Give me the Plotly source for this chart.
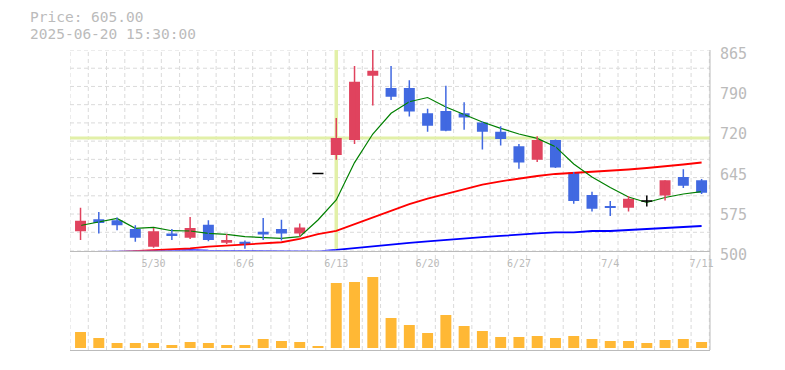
import plotly.graph_objects as go

# ---- data ----
dates = ["5/26","5/27","5/28","5/29","5/30","6/2","6/3","6/4","6/5","6/6",
         "6/9","6/10","6/11","6/12","6/13","6/16","6/17","6/18","6/19","6/20",
         "6/23","6/24","6/25","6/26","6/27","6/30","7/1","7/2","7/3","7/4",
         "7/7","7/8","7/9","7/10","7/11"]
opens  = [535,557,555,539,507,531,523,547,514,516,534,539,531,640,674,701,818,796,796,750,
          754,750,733,716,690,665,701,642,601,581,578,590,600,634,628]
highs  = [578,570,560,546,541,539,561,555,530,518,559,556,549,640,741,836,866,836,810,758,
          800,770,735,726,694,708,702,643,607,590,599,600,628,648,630]
lows   = [519,531,537,516,505,519,521,517,512,503,519,518,525,640,665,694,764,774,744,716,
          717,720,684,691,649,661,650,585,571,563,571,580,591,614,603]
closes = [554,550,546,523,535,528,541,519,519,511,529,531,542,640,705,807,827,780,753,727,
          718,742,716,703,660,701,651,590,576,578,594,590,628,618,605]
volumes = [160000,100000,50000,50000,50000,30000,60000,50000,30000,30000,
           90000,70000,60000,20000,650000,660000,710000,300000,230000,150000,
           330000,220000,170000,110000,110000,120000,100000,120000,90000,70000,
           70000,50000,80000,90000,60000]
ma5  = [545.5,551.3,558.3,540.4,542.2,536.0,535.5,531.3,529.5,525.1,524.0,522.2,525.1,555.5,591.9,
        660.0,712.0,749.8,770.9,778.5,761.2,747.6,733.9,722.4,712.1,704.2,689.0,657.5,633.8,614.7,
        597.4,587.4,596.5,602.9,607.0]
ma25 = [494.0,495.5,497.0,499.3,500.4,501.5,504.0,507.0,508.7,511.3,513.0,515.0,521.0,530.0,535.8,
        548.0,561.0,572.5,584.3,594.5,603.5,612.0,620.1,626.0,631.1,635.6,639.3,641.1,642.9,645.1,
        647.5,650.2,652.9,656.6,660.2]
ma75 = [497.0,497.5,498.0,498.5,499.5,500.4,500.7,499.6,499.2,499.0,498.8,498.8,498.9,498.5,501.0,
        504.5,507.8,511.0,514.0,516.5,519.5,522.0,524.5,526.5,528.2,531.0,533.0,533.1,535.5,535.5,
        537.3,539.1,540.4,542.2,544.6]
price_ticks = [500, 573, 646, 719, 792, 865]
price_labels = ["500", "575", "645", "720", "790", "865"]
label_every = 5
cross_index = 14
cross_price = 705
info_lines = ["Price: 605.00", "2025-06-20 15:30:00"]

# ---- styling ----
UP = "#e0435e"
DOWN = "#4169e1"
FLAT = "#000000"
GRID = "#dadada"
AXIS = "#bbbbbb"
TXT = "#bbbbbb"
MONO = "DejaVu Sans Mono"
PMIN, PMAX = 500, 865
XR = [-0.576, 34.46]

n = len(dates)
idx = list(range(n))
colors = [UP if c > o else (DOWN if c < o else FLAT) for o, c in zip(opens, closes)]

fig = go.Figure()

# moving averages (drawn under the candles)
fig.add_trace(go.Scatter(x=idx, y=ma75, mode="lines", line=dict(color="#0000ff", width=1.8),
                         hoverinfo="skip", showlegend=False, xaxis="x", yaxis="y"))
fig.add_trace(go.Scatter(x=idx, y=ma25, mode="lines", line=dict(color="#ff0000", width=1.8),
                         hoverinfo="skip", showlegend=False, xaxis="x", yaxis="y"))
fig.add_trace(go.Scatter(x=idx, y=ma5, mode="lines", line=dict(color="#008000", width=1.2),
                         hoverinfo="skip", showlegend=False, xaxis="x", yaxis="y"))

# wicks
for col in (UP, DOWN, FLAT):
    xs, ys = [], []
    for i in idx:
        if colors[i] == col and highs[i] != lows[i]:
            xs += [i, i, None]
            ys += [lows[i], highs[i], None]
    if xs:
        fig.add_trace(go.Scatter(x=xs, y=ys, mode="lines", line=dict(color=col, width=1.5),
                                 hoverinfo="skip", showlegend=False, xaxis="x", yaxis="y"))

# bodies
fig.add_trace(go.Bar(
    x=idx, y=[abs(c - o) for o, c in zip(opens, closes)],
    base=[min(o, c) for o, c in zip(opens, closes)],
    width=0.6, marker=dict(color=colors, line=dict(width=0)),
    hoverinfo="skip", showlegend=False, xaxis="x", yaxis="y"))

# flat (unchanged) bodies as short black bars
fx, fy = [], []
half = 0.3
for i in idx:
    if opens[i] == closes[i]:
        fx += [i - half, i + half, None]
        fy += [opens[i], opens[i], None]
fig.add_trace(go.Scatter(x=fx, y=fy, mode="lines", line=dict(color=FLAT, width=1.5),
                         hoverinfo="skip", showlegend=False, xaxis="x", yaxis="y"))

# volume
fig.add_trace(go.Bar(x=idx, y=volumes, width=0.6, marker=dict(color="#ffb835", line=dict(width=0)),
                     hoverinfo="skip", showlegend=False, xaxis="x2", yaxis="y2"))

shapes = []
# vertical dashed grid through both panels
for k in range(n + 1):
    shapes.append(dict(type="line", xref="x", yref="paper", x0=k + XR[0], x1=k + XR[0], y0=0, y1=1,
                       line=dict(color=GRID, width=1, dash="4px,3px"), layer="below"))
# horizontal dashed grid in price panel
for k in range(12):
    yv = PMIN + k * (PMAX - PMIN) / 11
    shapes.append(dict(type="line", xref="paper", yref="y", x0=0, x1=1, y0=yv, y1=yv,
                       line=dict(color=GRID, width=1, dash="4px,3px"), layer="below"))
# crosshair
shapes.append(dict(type="line", xref="x", yref="y", x0=cross_index, x1=cross_index, y0=PMIN, y1=PMAX,
                   line=dict(color="#e2f0a8", width=3.5), layer="below"))
shapes.append(dict(type="line", xref="paper", yref="y", x0=0, x1=1, y0=cross_price, y1=cross_price,
                   line=dict(color="#e2f0a8", width=3), layer="below"))
# right border
shapes.append(dict(type="line", xref="paper", yref="paper", x0=1, x1=1, y0=0, y1=1,
                   line=dict(color=AXIS, width=1)))

# page body has an 8px margin; lay out in screen pixels and compensate
OFF = 8
W, H = 785 - 2 * OFF, 370 - 2 * OFF
plot_l, plot_r, plot_t, plot_b = 70 - OFF, 710 - OFF, 50 - OFF, 350 - OFF
ml, mr, mt, mb = plot_l, W - plot_r, plot_t, H - plot_b
ph = plot_b - plot_t
pw = plot_r - plot_l
price_bottom_px = 250.5 - OFF
vol_top_px = 270 - OFF
price_dom = [(plot_b - price_bottom_px) / ph, 1]
vol_dom = [0, (plot_b - vol_top_px) / ph]

fig.update_layout(
    template="none",
    width=W, height=H, margin=dict(l=ml, r=mr, t=mt, b=mb, pad=0, autoexpand=False),
    paper_bgcolor="white", plot_bgcolor="white",
    barmode="overlay", shapes=shapes, showlegend=False,
    xaxis=dict(domain=[0, 1], anchor="y", range=XR, showgrid=False, zeroline=False, automargin=False,
               tickvals=idx[label_every - 1::label_every], ticktext=dates[label_every - 1::label_every],
               tickfont=dict(family=MONO, size=10, color=TXT), ticks="outside", ticklen=3,
               tickcolor="rgba(0,0,0,0)", showline=True, linecolor=AXIS, linewidth=1),
    yaxis=dict(domain=price_dom, anchor="x", range=[PMIN, PMAX], side="right", showgrid=False,
               zeroline=False, automargin=False, tickvals=price_ticks, ticktext=price_labels,
               tickfont=dict(family=MONO, size=15, color=TXT), ticks="outside", ticklen=6,
               tickcolor="rgba(0,0,0,0)", ticklabelshift=4, showline=False),
    xaxis2=dict(domain=[0, 1], anchor="y2", range=XR, showgrid=False, zeroline=False, automargin=False,
                showticklabels=False, showline=True, linecolor=AXIS, linewidth=1, ticks=""),
    yaxis2=dict(domain=vol_dom, anchor="x2", range=[-20000, 780000], showgrid=False, zeroline=False,
                automargin=False, showticklabels=False, ticks="", showline=False),
    annotations=[
        dict(xref="paper", yref="paper", x=(28 - OFF - ml) / pw, y=1 + (mt - (16.9 - OFF)) / ph,
             xanchor="left", yanchor="middle", showarrow=False, text=info_lines[0],
             font=dict(family=MONO, size=14.5, color=TXT)),
        dict(xref="paper", yref="paper", x=(28 - OFF - ml) / pw, y=1 + (mt - (34.0 - OFF)) / ph,
             xanchor="left", yanchor="middle", showarrow=False, text=info_lines[1],
             font=dict(family=MONO, size=14.5, color=TXT)),
    ],
)

fig.write_html("out.html")
